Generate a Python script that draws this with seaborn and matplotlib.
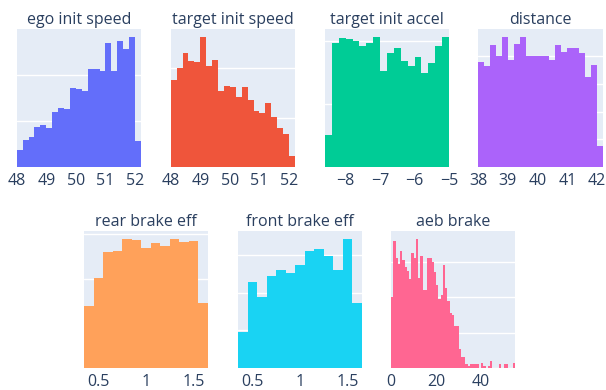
import numpy as np
import pandas as pd
import seaborn as sns
import matplotlib.pyplot as plt

# Histogram counts per bin for each simulation parameter
ego_init_speed = [18, 29, 33, 43, 46, 42, 60, 64, 63, 86, 84, 82, 106, 106, 104,
                  134, 104, 137, 128, 141, 28]
target_init_speed = [88, 100, 116, 107, 106, 132, 102, 108, 77, 82, 81, 71, 81, 68,
                     57, 55, 65, 51, 40, 33, 11]
target_init_accel = [25, 98, 102, 101, 100, 96, 98, 103, 76, 90, 94, 84, 80, 87, 74,
                     82, 96, 103]
distance = [76, 73, 88, 80, 94, 77, 89, 94, 80, 80, 80, 80, 77, 88, 83, 86, 86, 82,
            65, 74, 15]
rear_brake_eff = [69, 101, 130, 131, 145, 144, 135, 140, 137, 145, 141, 142, 73]
front_brake_eff = [48, 114, 94, 122, 130, 126, 137, 156, 159, 149, 130, 172, 87]
aeb_brake = [40, 72, 62, 59, 66, 61, 57, 55, 50, 65, 62, 73, 51, 63, 44, 44, 62, 62,
             60, 54, 47, 39, 41, 58, 45, 38, 31, 30, 24, 24, 11, 6, 6, 2, 1,
             2, 2, 2, 2, 0, 3, 1, 0, 1, 4, 0, 0, 0, 2, 0, 2, 2, 0, 0, 3]

# Bin layout: (first edge, bin width)
bins_ego = (48.0, 0.2)
bins_target_speed = (48.0, 0.2)
bins_accel = (-8.6, 0.2)
bins_distance = (38.0, 0.2)
bins_brake_eff = (0.35, 0.1)
bins_aeb = (0.0, 1.0)

titles = ["ego init speed", "target init speed", "target init accel", "distance",
          "rear brake eff", "front brake eff", "aeb brake"]

ticks_ego = [48, 49, 50, 51, 52]
ticks_accel = [-8, -7, -6, -5]
tick_labels_accel = ["\u22128", "\u22127", "\u22126", "\u22125"]
ticks_distance = [38, 39, 40, 41, 42]
ticks_eff = [0.5, 1.0, 1.5]
tick_labels_eff = ["0.5", "1", "1.5"]
ticks_aeb = [0, 20, 40]

colors = ["#636EFA", "#EF553B", "#00CC96", "#AB63FA", "#FFA15A", "#19D3F3", "#FF6692"]

sns.set_style("darkgrid", {"axes.facecolor": "#E5ECF6", "grid.color": "white"})
plt.rcParams["font.family"] = ["Open Sans", "DejaVu Sans"]
TEXT = "#2a3f5f"

fig = plt.figure(figsize=(6.06, 3.90), dpi=100)
W, H = 606.0, 390.0


def box(x0, x1, y0, y1):
    return [x0 / W, (H - y1) / H, (x1 - x0) / W, (y1 - y0) / H]


panels = [
    (ego_init_speed, bins_ego, ticks_ego, [str(t) for t in ticks_ego], 50,
     box(16.7, 141, 29, 167)),
    (target_init_speed, bins_target_speed, ticks_ego, [str(t) for t in ticks_ego], 50,
     box(170.7, 295, 29, 167)),
    (target_init_accel, bins_accel, ticks_accel, tick_labels_accel, 50,
     box(325, 449, 29, 167)),
    (distance, bins_distance, ticks_distance, [str(t) for t in ticks_distance], 20,
     box(478, 603, 29, 167)),
    (rear_brake_eff, bins_brake_eff, ticks_eff, tick_labels_eff, 50,
     box(84, 208, 231, 368)),
    (front_brake_eff, bins_brake_eff, ticks_eff, tick_labels_eff, 50,
     box(238, 362, 231, 368)),
    (aeb_brake, bins_aeb, ticks_aeb, [str(t) for t in ticks_aeb], 20,
     box(391, 515, 231, 368)),
]

for i, (counts, (start, width), ticks, labels, grid_step, rect) in enumerate(panels):
    ax = fig.add_axes(rect)
    n = len(counts)
    edges = start + width * np.arange(n + 1)
    centers = edges[:-1] + width / 2
    # one observation per counted sample, placed at its bin centre
    df = pd.DataFrame({"value": np.repeat(centers, counts)})
    sns.histplot(data=df, x="value", bins=edges.tolist(), ax=ax,
                 color=colors[i], alpha=1.0, linewidth=0, element="bars")
    top = max(counts) * 1.06
    ax.set_xlim(edges[0], edges[-1])
    ax.set_ylim(0, top)
    ax.set_yticks(np.arange(0, top, grid_step))
    ax.set_yticklabels([])
    ax.xaxis.grid(False)
    ax.yaxis.grid(True, color="white", linewidth=1.0)
    ax.set_axisbelow(True)
    ax.set_xticks(ticks)
    ax.set_xticklabels(labels)
    ax.tick_params(axis="both", length=0, labelsize=11.5, colors=TEXT, pad=4)
    ax.set_xlabel("")
    ax.set_ylabel("")
    for s in ax.spines.values():
        s.set_visible(False)
    ax.set_title(titles[i], fontsize=11.5, color=TEXT, pad=3.5)

fig.savefig("out.png", dpi=100, facecolor="white")
